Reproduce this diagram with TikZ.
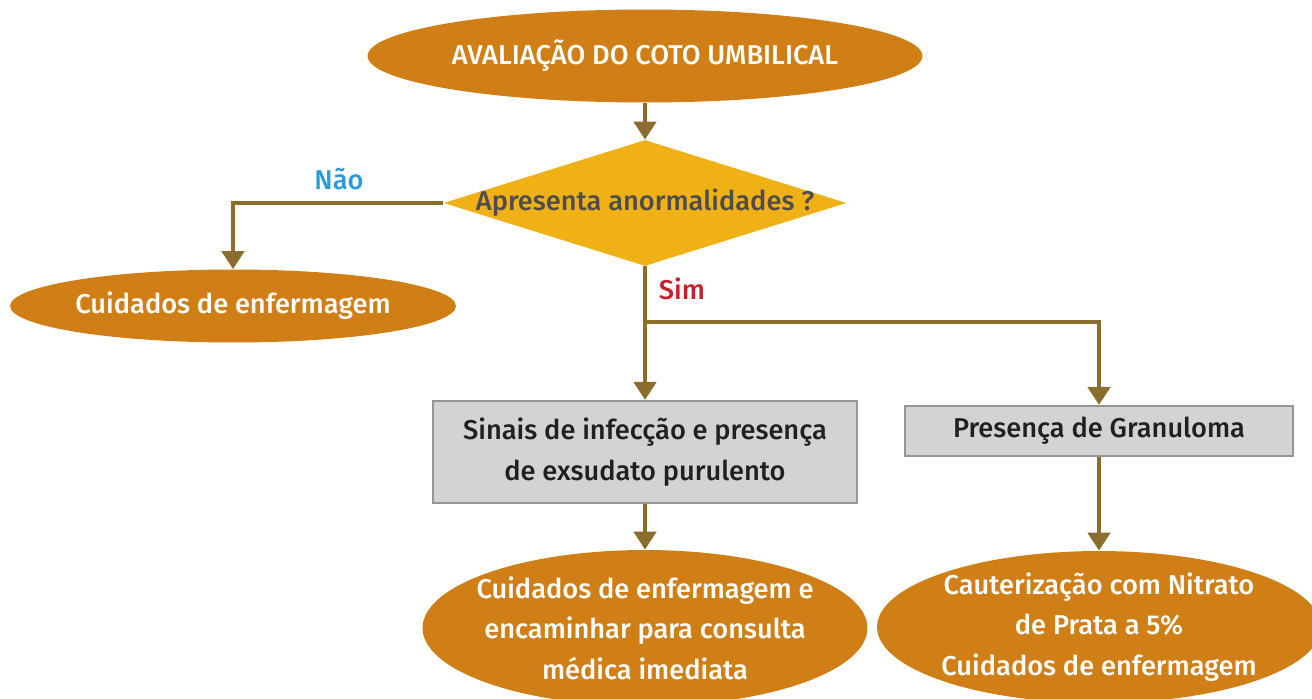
\documentclass[tikz,border=0pt]{standalone}
\usepackage{fontspec}
\setmainfont{Fira Sans}[BoldFont={Fira Sans Medium}]
\usetikzlibrary{arrows.meta,shapes.geometric}
\definecolor{ochre}{HTML}{CF7F16}
\definecolor{amber}{HTML}{F0B117}
\definecolor{flowline}{HTML}{8B6D2D}
\definecolor{boxfill}{HTML}{D1D3D4}
\definecolor{boxline}{HTML}{939598}
\definecolor{darktext}{HTML}{231F20}
\definecolor{noblue}{HTML}{2A9BD6}
\definecolor{simred}{HTML}{C8202A}

\begin{document}
\begin{tikzpicture}[x=0.02cm,y=-0.02cm,
  every node/.style={font=\fontsize{15.5}{23}\selectfont\bfseries},
  oval node/.style={ellipse,fill=ochre,text=white,inner sep=0pt,align=center},
  choice node/.style={diamond,fill=amber,text=darktext!80,inner sep=0pt,aspect=3.2},
  box node/.style={rectangle,fill=boxfill,draw=boxline,line width=1.2pt,text=darktext,align=center,inner sep=0pt},
  flow/.style={draw=flowline,line width=2.8pt,-{Triangle[width=0.44cm,length=0.36cm]}}]

  \clip (0,0) rectangle (1312,699);

  \node[oval node,minimum width=11.1cm,minimum height=1.86cm] (start) at (645,56) {AVALIAÇÃO DO COTO UMBILICAL};
  \node[choice node,minimum width=8.06cm,minimum height=2.52cm,inner sep=-4pt] (check) at (645,203) {Apresenta anormalidades ?};
  \node[oval node,minimum width=8.9cm,minimum height=1.46cm] (care) at (233,306) {Cuidados de enfermagem};
  \node[box node,minimum width=8.48cm,minimum height=2.04cm] (infect) at (645,452) {Sinais de infecção e presença\\de exsudato purulento};
  \node[box node,minimum width=7.76cm,minimum height=1cm] (granul) at (1099,431) {Presença de Granuloma};
  \node[oval node,minimum width=8.9cm,minimum height=3.12cm,inner sep=-12pt] (refer) at (645,628) {Cuidados de enfermagem e\\encaminhar para consulta\\médica imediata};
  \node[oval node,minimum width=8.88cm,minimum height=3.04cm,inner sep=-12pt] (cauter) at (1099,627) {Cauterização com Nitrato\\de Prata a 5\%\\Cuidados de enfermagem};

  \node[text=noblue] (no) at (339,179) {Não};
  \node[text=simred] (yes) at (682,289) {Sim};

  \coordinate (split) at (645,322);

  \draw[flow] (start) -- (check);
  \draw[flow] (check.west) -| (care.north);
  \draw[draw=flowline,line width=2.8pt] (check.south) -- (split);
  \draw[flow] (split) -- (infect.north);
  \draw[flow] (split) -| (granul.north);
  \draw[flow] (infect) -- (refer);
  \draw[flow] (granul) -- (cauter);
\end{tikzpicture}
\end{document}
